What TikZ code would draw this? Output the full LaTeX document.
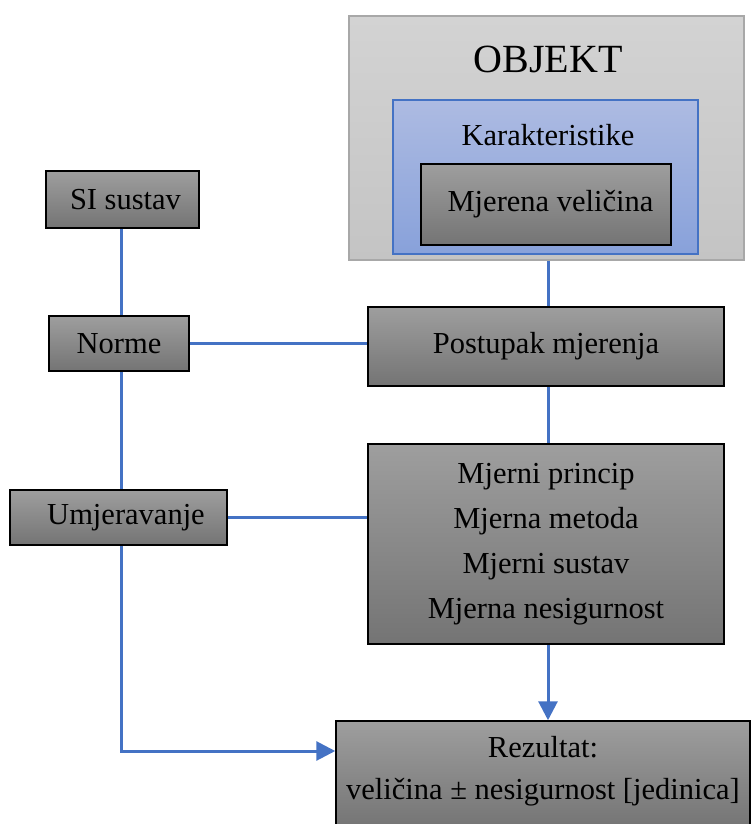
\documentclass[tikz,border=0pt]{standalone}
\usepackage{fontspec}
\setmainfont{Liberation Serif}
\usetikzlibrary{arrows.meta}
\definecolor{lnblue}{HTML}{4472C4}
\definecolor{gtop}{HTML}{9E9E9E}
\definecolor{gbot}{HTML}{747474}
\definecolor{otop}{HTML}{D3D3D3}
\definecolor{obot}{HTML}{C4C4C4}
\definecolor{oedge}{HTML}{A8A8A8}
\definecolor{ktop}{HTML}{ADBBE2}
\definecolor{kbot}{HTML}{88A1DA}
\tikzset{
  graybox/.style={draw=black, line width=1.5pt, top color=gtop, bottom color=gbot,
    inner sep=0pt, font=\fontsize{30.5}{45}\selectfont, align=center},
  conn/.style={draw=lnblue, line width=3pt},
  arr/.style={conn, -{Triangle[length=19pt,width=19pt]}},
}
\begin{document}
\begin{tikzpicture}[x=1pt,y=-1pt]
\useasboundingbox (0,0) rectangle (751,824);
% OBJEKT
\node[draw=oedge, line width=1.5pt, top color=otop, bottom color=obot, inner sep=0pt,
  minimum width=395pt, minimum height=244pt] (obj) at (546.5,138) {};
\node[font=\fontsize{40}{48}\selectfont, inner sep=0pt] (objlbl) at (548,59) {OBJEKT};
\node[draw=lnblue, line width=1.5pt, top color=ktop, bottom color=kbot, inner sep=0pt,
  minimum width=305pt, minimum height=154pt] (kar) at (545.5,177) {};
\node[font=\fontsize{30.5}{36}\selectfont, inner sep=0pt] (karlbl) at (548,135) {Karakteristike};
\node[graybox, minimum width=250pt, minimum height=81pt] (mv) at (546,204.5) {\hspace*{9pt}\raisebox{4pt}{Mjerena veličina}};
% left column
\coordinate (trunk) at (121,0);
\node[graybox, minimum width=153pt, minimum height=57pt] (si) at (122.5,199.5) {\hspace*{6pt}SI sustav};
\node[graybox, minimum width=140pt, minimum height=55pt] (norme) at (119,343.5) {Norme};
\node[graybox, minimum width=217pt, minimum height=55pt] (umj) at (118.5,517.5) {\hspace*{15pt}Umjeravanje};
% right column
\node[graybox, minimum width=356pt, minimum height=79pt] (post) at (546,346.5) {Postupak mjerenja};
\node[graybox, minimum width=356pt, minimum height=200pt] (mjer) at (546,544)
  {Mjerni princip\\Mjerna metoda\\Mjerni sustav\\Mjerna nesigurnost};
\node[graybox, minimum width=414pt, minimum height=108pt] (rez) at (543,775) {};
\node[font=\fontsize{30.5}{42}\selectfont, align=center, inner sep=0pt] (reztxt) at (543,771)
  {Rezultat:\\veličina ± nesigurnost [jedinica]};
% connectors
\draw[conn] (si.south -| trunk) -- (norme.north -| trunk);
\draw[conn] (norme.south -| trunk) -- (umj.north -| trunk);
\draw[conn] (norme.east) -- (norme.east -| post.west);
\draw[conn] (umj.east) -- (umj.east -| mjer.west);
\draw[conn] (obj.south -| 548,0) -- (post.north -| 548,0);
\draw[conn] (post.south -| 548,0) -- (mjer.north -| 548,0);
\draw[arr] (mjer.south -| 548,0) -- (rez.north -| 548,0);
\draw[arr] (umj.south -| trunk) |- ([yshift=24pt]rez.west);
\end{tikzpicture}
\end{document}
